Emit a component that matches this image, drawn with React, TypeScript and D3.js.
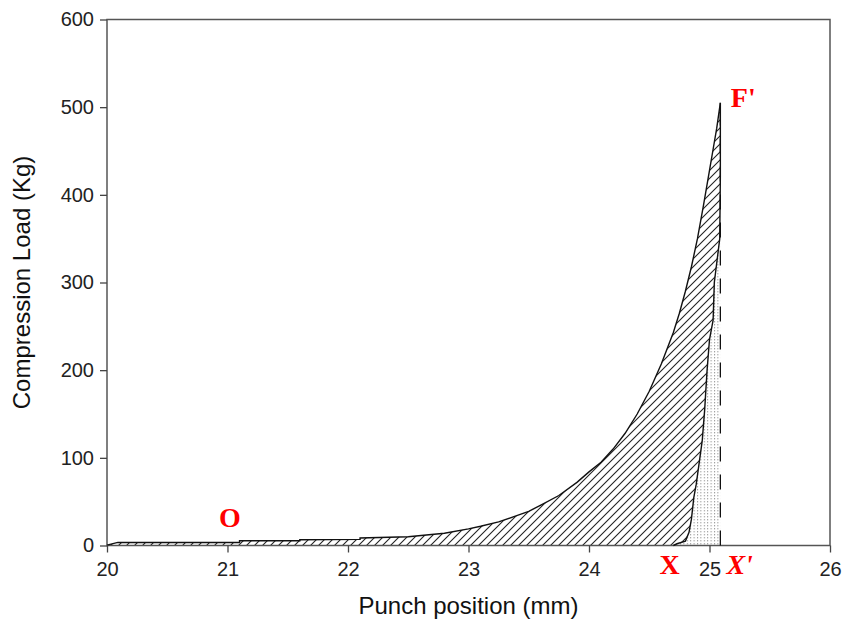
import React, { useEffect, useRef } from 'react';
import * as d3 from 'd3';

// compression (loading) curve: punch position (mm) vs load (Kg)
const loadX = [20.0, 20.09, 21.1, 21.1, 21.6, 21.6, 22.1, 22.1, 22.5, 22.8, 23.0, 23.1, 23.25, 23.4, 23.5, 23.6, 23.75, 23.9, 24.0, 24.1, 24.2, 24.3, 24.4, 24.5, 24.6, 24.7, 24.75, 24.8, 24.85, 24.9, 24.95, 25.0, 25.03, 25.06, 25.09];
const loadY = [0.5, 3.5, 3.5, 5.5, 5.5, 6.5, 7, 8.5, 10, 14, 19, 22, 27, 34, 39, 46, 57, 72, 84, 95, 110, 128, 150, 176, 207, 243, 265, 290, 318, 350, 388, 428, 452, 476, 505];

// decompression (unloading) curve from the peak back down
const unloadX = [25.09, 25.09, 25.085, 25.04, 25.03, 25.0, 24.98, 24.96, 24.94, 24.92, 24.89, 24.87, 24.85, 24.83, 24.8, 24.73, 24.7];
const unloadY = [505, 420, 350, 300, 257, 235, 200, 155, 120, 100, 70, 55, 30, 15, 5, 2, 0];

const finalPos = 25.09; // X'
const xTicks = [20, 21, 22, 23, 24, 25, 26];
const yTicks = [0, 100, 200, 300, 400, 500, 600];

const labels = [
  { text: 'O', x: 21.02, y: 21, italic: false },
  { text: "F'", x: 25.28, y: 500, italic: false },
  { text: 'X', x: 24.67, y: -33, italic: false },
  { text: "X'", x: 25.25, y: -33, italic: true },
];

const W = 842;
const H = 628;

const Chart = () => {
  const ref = useRef<SVGSVGElement>(null);

  useEffect(() => {
    const svg = d3.select(ref.current);
    svg.selectAll('*').remove();

    const margin = { top: 19.5, right: 12, bottom: 82.5, left: 107 };

    const x = d3.scaleLinear().domain([20, 26]).range([margin.left, W - margin.right]);
    const y = d3.scaleLinear().domain([0, 600]).range([H - margin.bottom, margin.top]);

    const defs = svg.append('defs');
    const hatch = defs.append('pattern')
      .attr('id', 'hatch')
      .attr('patternUnits', 'userSpaceOnUse')
      .attr('width', 8)
      .attr('height', 8);
    hatch.append('path')
      .attr('d', 'M-2,2 l4,-4 M0,8 l8,-8 M6,10 l4,-4')
      .attr('stroke', '#222')
      .attr('stroke-width', 1.1);

    const dots = defs.append('pattern')
      .attr('id', 'dots')
      .attr('patternUnits', 'userSpaceOnUse')
      .attr('width', 3.4)
      .attr('height', 3);
    dots.append('rect')
      .attr('width', 1).attr('height', 1.4)
      .attr('fill', '#9a9a9a');

    const loading = loadX.map((v, i) => [v, loadY[i]] as [number, number]);
    const unloading = unloadX.map((v, i) => [v, unloadY[i]] as [number, number]);

    const line = d3.line<[number, number]>().x(d => x(d[0])).y(d => y(d[1]));

    // hatched work area between loading curve and unloading curve / baseline
    const hatchPoly = [...loading, ...unloading, [20, 0] as [number, number]];
    svg.append('path')
      .attr('d', line(hatchPoly) + 'Z')
      .attr('fill', 'url(#hatch)');

    // dotted area between unloading curve and final position
    const dotPoly = [...unloading, [finalPos, 0] as [number, number]];
    svg.append('path')
      .attr('d', line(dotPoly) + 'Z')
      .attr('fill', 'url(#dots)');

    // frame
    svg.append('rect')
      .attr('x', x(20)).attr('y', y(600))
      .attr('width', x(26) - x(20)).attr('height', y(0) - y(600))
      .attr('fill', 'none')
      .attr('stroke', '#555')
      .attr('stroke-width', 1.5);

    // dashed vertical line at X'
    svg.append('line')
      .attr('x1', x(finalPos)).attr('x2', x(finalPos))
      .attr('y1', y(0)).attr('y2', y(505))
      .attr('stroke', '#111')
      .attr('stroke-width', 1.3)
      .attr('stroke-dasharray', '15,13');

    svg.append('path')
      .attr('d', line(loading))
      .attr('fill', 'none')
      .attr('stroke', '#111')
      .attr('stroke-width', 1.4);

    svg.append('path')
      .attr('d', line(unloading))
      .attr('fill', 'none')
      .attr('stroke', '#111')
      .attr('stroke-width', 1.4);

    const xAxis = svg.append('g')
      .attr('transform', `translate(0,${y(0)})`)
      .call(d3.axisBottom(x).tickValues(xTicks).tickSize(7).tickPadding(9).tickFormat(d3.format('d')));
    const yAxis = svg.append('g')
      .attr('transform', `translate(${x(20)},0)`)
      .call(d3.axisLeft(y).tickValues(yTicks).tickSize(7).tickPadding(6).tickFormat(d3.format('d')));

    [xAxis, yAxis].forEach(g => {
      g.select('.domain').remove();
      g.selectAll('line').attr('stroke', '#444').attr('stroke-width', 1.3);
      g.selectAll('text')
        .attr('fill', '#222')
        .style('font-family', 'Arial, "Liberation Sans", sans-serif')
        .style('font-size', '20px');
    });

    svg.append('text')
      .attr('x', (x(20) + x(26)) / 2)
      .attr('y', 614)
      .attr('text-anchor', 'middle')
      .attr('fill', '#111')
      .style('font-family', 'Arial, "Liberation Sans", sans-serif')
      .style('font-size', '24px')
      .text('Punch position (mm)');

    svg.append('text')
      .attr('transform', `translate(30,${(y(0) + y(600)) / 2}) rotate(-90)`)
      .attr('text-anchor', 'middle')
      .attr('fill', '#111')
      .style('font-family', 'Arial, "Liberation Sans", sans-serif')
      .style('font-size', '24px')
      .text('Compression Load (Kg)');

    svg.selectAll('.mark')
      .data(labels)
      .enter().append('text')
      .attr('class', 'mark')
      .attr('x', d => x(d.x))
      .attr('y', d => y(d.y))
      .attr('text-anchor', 'middle')
      .attr('fill', '#ff0000')
      .style('font-family', '"Liberation Serif", "Times New Roman", serif')
      .style('font-weight', 'bold')
      .style('font-style', d => (d.italic ? 'italic' : 'normal'))
      .style('font-size', '28px')
      .text(d => d.text);
  }, []);

  return (
    <svg
      ref={ref}
      width={W}
      height={H}
      style={{ position: 'fixed', left: 0, top: 0, display: 'block', background: '#fff' }}
    />
  );
};

export default function App() {
  return <Chart />;
}
